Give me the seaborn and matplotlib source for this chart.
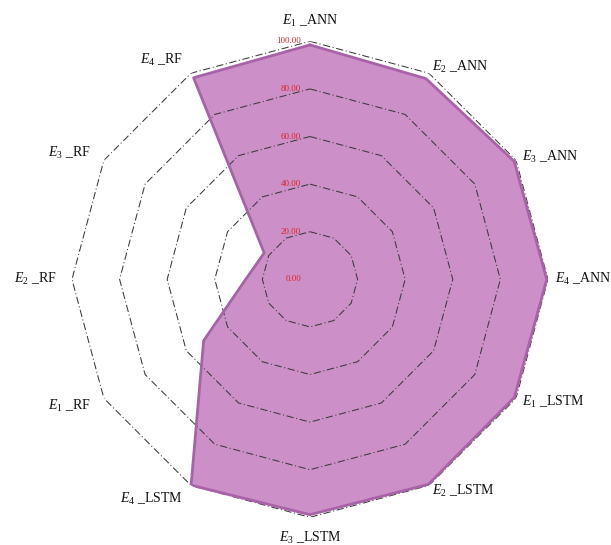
import numpy as np
import matplotlib
matplotlib.use("Agg")
import matplotlib.pyplot as plt
from matplotlib.transforms import offset_copy
import seaborn as sns

# Model / experiment axes, clockwise from the top
models = ["ANN"] * 4 + ["LSTM"] * 4 + ["RF"] * 4
experiments = [1, 2, 3, 4] * 3
scores = [98.5, 97.4, 99.1, 99.5, 99.2, 99.5, 98.9, 99.9, 51.6, 27.0, 22.2, 97.8]
ring_levels = [20, 40, 60, 80, 100]
ring_labels = ["0.00", "20.00", "40.00", "60.00", "80.00", "100.00"]

sns.set_theme(style="white")
plt.rcParams["font.family"] = ["Liberation Serif", "DejaVu Serif"]
plt.rcParams["mathtext.fontset"] = "custom"
plt.rcParams["mathtext.rm"] = "Liberation Serif"
plt.rcParams["mathtext.it"] = "Liberation Serif:italic"

fig = plt.figure(figsize=(6.11, 5.45), dpi=100)
ax = fig.add_axes([0.1178, 0.0508, 0.779, 0.8734], projection="polar")
ax.set_theta_offset(np.pi / 2)
ax.set_theta_direction(-1)
ax.set_ylim(0, 100)
ax.grid(False)
ax.spines["polar"].set_visible(False)
ax.set_xticks([])
ax.set_yticks([])
ax.set_facecolor("none")

n = len(scores)
theta = np.linspace(0, 2 * np.pi, n, endpoint=False)
theta_closed = np.append(theta, theta[0])

# Polygonal dash-dot rings
for lvl in ring_levels:
    ax.plot(theta_closed, [lvl] * (n + 1), color="#3a3a3a", lw=0.75,
            ls=(0, (7, 2.5, 1, 2.5)), zorder=3)

# Filled score polygon
vals_closed = np.append(scores, scores[0])
ax.fill(theta_closed, vals_closed, color="#CC8FC7", alpha=1.0, zorder=2, lw=0)
sns.lineplot(x=theta_closed, y=vals_closed, ax=ax, sort=False,
             color="#A862A7", lw=2.0, zorder=4, estimator=None)

# Radial value labels along the top spoke
lab_tr = offset_copy(ax.transData, fig=fig, x=-9, y=0, units="dots")
for i, txt in enumerate(ring_labels):
    ax.text(0, i * 20, txt, transform=lab_tr, ha="right", va="center",
            color="#D9262C", fontsize=6.5, zorder=5)

# Axis names
for t, m, e in zip(theta, models, experiments):
    s = np.sin(t)
    label = rf"$E_{{{e}}}$ _{m}"
    if abs(s) < 0.05:
        ha, r = "center", 108.5
    elif s > 0:
        ha, r = "left", 102.8
    else:
        ha, r = "right", 106.5
    ax.text(t, r, label, ha=ha, va="center", fontsize=10,
            color="#111111", clip_on=False, zorder=6)

fig.savefig("out.png", dpi=100, facecolor="white")
